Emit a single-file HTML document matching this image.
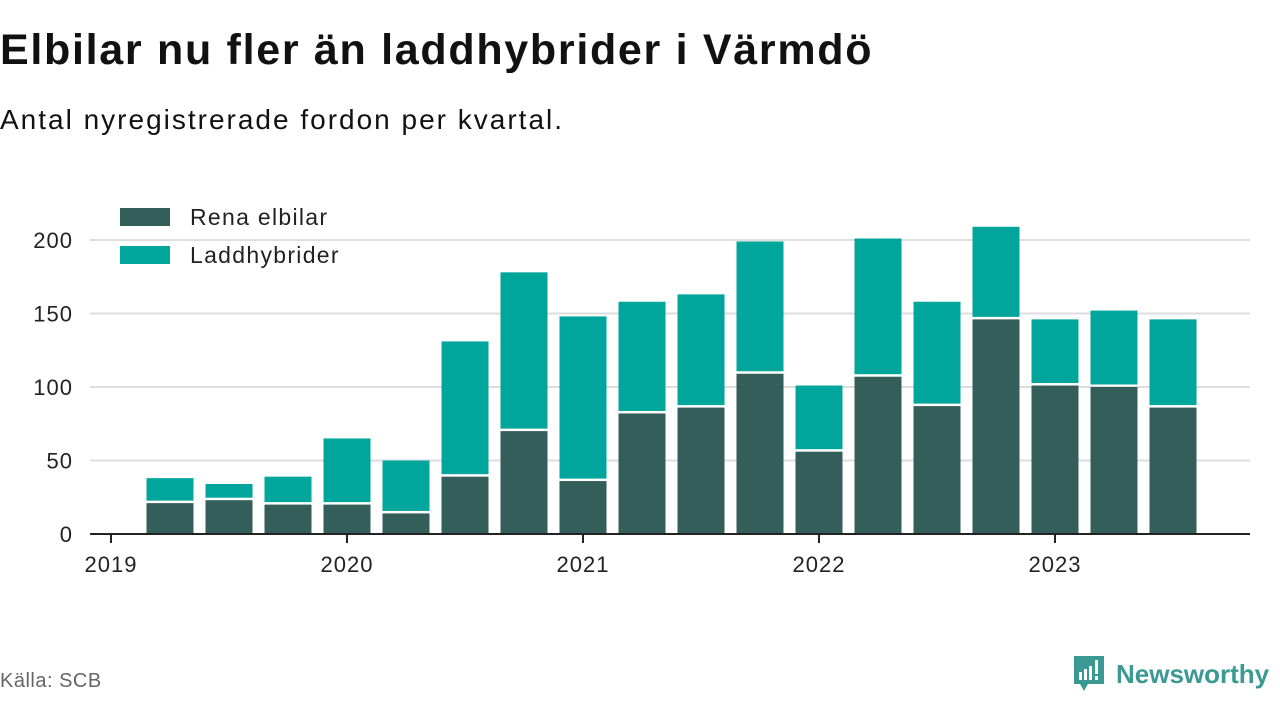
<!DOCTYPE html>
<html><head><meta charset="utf-8"><style>
body{margin:0;background:#fff;width:1280px;height:720px;overflow:hidden;font-family:"Liberation Sans","DejaVu Sans",sans-serif;color:#111}
#title{position:absolute;left:0;top:26px;font-size:43px;font-weight:bold;margin:0;letter-spacing:1.7px}
#sub{position:absolute;left:0;top:104px;font-size:28px;letter-spacing:2px}
#src{position:absolute;left:0;top:670px;font-size:20px;color:#666;letter-spacing:0.5px}
#logo{position:absolute;left:1072px;top:654px;display:flex;align-items:center;color:#3a9a93;font-size:26px;font-weight:bold}
</style></head><body>
<h1 id="title">Elbilar nu fler än laddhybrider i Värmdö</h1>
<div id="sub">Antal nyregistrerade fordon per kvartal.</div>
<svg id="chart" width="1280" height="720" style="position:absolute;left:0;top:0"></svg>
<div id="src">Källa: SCB</div>
<div id="logo">
<svg width="34" height="40"><path d="M2 2h30v28H16l-4 7-4-7H2z" fill="#3a9a93"/><rect x="7" y="18" width="3" height="8" fill="#fff"/><rect x="12" y="15" width="3" height="11" fill="#fff"/><rect x="17" y="12" width="3" height="14" fill="#fff"/><rect x="23" y="6" width="3" height="14" fill="#fff"/><rect x="23" y="22" width="3" height="4" fill="#fff"/></svg>
<span style="margin-left:10px">Newsworthy</span></div>
<script>
const quarters=[1,2,3,4,5,6,7,8,9,10,11,12,13,14,15,16,17,18];
const elbilar=[21,23,20,20,14,39,70,36,82,86,109,56,107,87,146,101,100,86];
const hybrider=[17,11,19,45,36,92,108,112,76,77,90,45,94,71,63,45,52,60];
const yTicks=[0,50,100,150,200];
const xYears=[2019,2020,2021,2022,2023];
const NS="http://www.w3.org/2000/svg";
const svg=document.getElementById('chart');
const y=v=>534-v*1.47;
const x=q=>111+59*q;
function mk(t,a){const e=document.createElementNS(NS,t);for(const k in a)e.setAttribute(k,a[k]);svg.appendChild(e);return e;}
yTicks.forEach(t=>{
 if(t>0){const g=mk('line',{x1:90,x2:1250,y1:y(t),y2:y(t),stroke:'#ddd','stroke-width':2});
 
 }
 const l=mk('text',{x:73,y:y(t)+8,'text-anchor':'end','font-size':22,fill:'#222','letter-spacing':1});l.textContent=t;
 
 
});
quarters.forEach((q,i)=>{
 const cx=x(q),w=47;
 const b1=mk('rect',{x:cx-w/2,y:y(elbilar[i]),width:w,height:y(0)-y(elbilar[i]),fill:'#335e5a'});
 
 
 const tot=elbilar[i]+hybrider[i];
 const b2=mk('rect',{x:cx-w/2,y:y(tot),width:w,height:y(elbilar[i])-y(tot)-2.5,fill:'#00a59b'});
 
 
});
const ax=mk('line',{x1:90,x2:1250,y1:534,y2:534,stroke:'#222','stroke-width':2});


xYears.forEach((yr,i)=>{
 const px=x(i*4);
 const tk=mk('line',{x1:px,x2:px,y1:534,y2:543,stroke:'#222','stroke-width':2});
 
 
 const l=mk('text',{x:px,y:572,'text-anchor':'middle','font-size':22,fill:'#222','letter-spacing':1});l.textContent=yr;
 
 
});
[['Rena elbilar','#335e5a',218],['Laddhybrider','#00a59b',256]].forEach(([n,c,ly])=>{
 const r=mk('rect',{x:120,y:ly-10,width:50,height:18,fill:c});
 
 
 const t=mk('text',{x:190,y:ly+7,'font-size':23,fill:'#222','letter-spacing':1.3});t.textContent=n;
 
 
});
</script>
</body></html>
